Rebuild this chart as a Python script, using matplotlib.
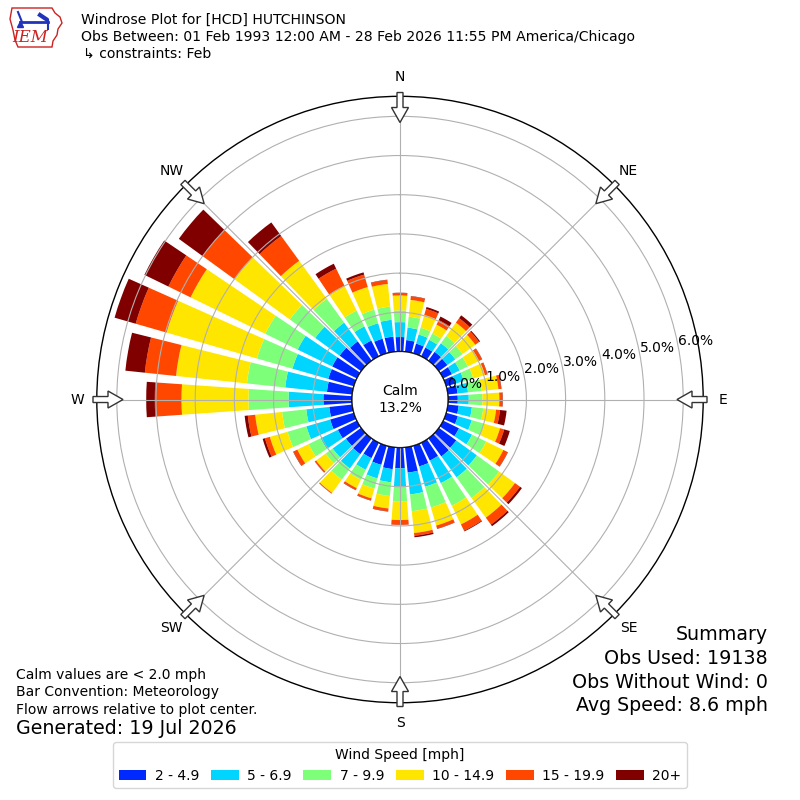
"""Wind rose for HCD Hutchinson, February observations"""
import numpy as np
import matplotlib
matplotlib.use("Agg")
import matplotlib.pyplot as plt
from matplotlib.patches import Polygon, Circle, Patch

## direction bins (deg, meteorological "from"), 10 degree steps
DIRECTIONS = np.arange(0, 360, 10)
SPEED_LABELS = ["2 - 4.9", "5 - 6.9", "7 - 9.9", "10 - 14.9", "15 - 19.9", "20+"]
COMPASS = ["N", "NE", "E", "SE", "S", "SW", "W", "NW"]

## frequency (% of all obs) per direction for each speed bin
SPD_2_5 = [0.37, 0.30, 0.26, 0.25, 0.28, 0.27, 0.25, 0.24, 0.25, 0.25, 0.28, 0.31,
           0.45, 0.55, 0.57, 0.51, 0.55, 0.65, 0.53, 0.56, 0.51, 0.44, 0.50, 0.48,
           0.54, 0.63, 0.59, 0.73, 0.65, 0.68, 0.70, 0.68, 0.61, 0.45, 0.39, 0.39]
SPD_5_7 = [0.38, 0.32, 0.24, 0.22, 0.27, 0.25, 0.22, 0.23, 0.27, 0.28, 0.34, 0.37,
           0.37, 0.65, 0.66, 0.64, 0.54, 0.56, 0.47, 0.34, 0.36, 0.33, 0.45, 0.42,
           0.49, 0.63, 0.59, 0.89, 1.07, 0.95, 0.98, 0.77, 0.59, 0.40, 0.41, 0.43]
SPD_7_10 = [0.30, 0.28, 0.18, 0.18, 0.23, 0.23, 0.23, 0.25, 0.35, 0.35, 0.29, 0.33,
            0.40, 0.70, 0.65, 0.64, 0.55, 0.43, 0.38, 0.35, 0.27, 0.28, 0.35, 0.22,
            0.34, 0.50, 0.62, 1.02, 0.98, 0.94, 0.92, 0.80, 0.75, 0.45, 0.36, 0.34]
SPD_10_15 = [0.38, 0.43, 0.34, 0.25, 0.42, 0.40, 0.32, 0.31, 0.43, 0.43, 0.33, 0.42,
             0.49, 0.50, 0.62, 0.53, 0.48, 0.56, 0.47, 0.32, 0.26, 0.24, 0.42, 0.30,
             0.32, 0.47, 0.69, 1.71, 1.82, 2.40, 2.12, 1.75, 1.20, 0.70, 0.60, 0.58]
SPD_15_20 = [0.06, 0.09, 0.16, 0.13, 0.14, 0.12, 0.08, 0.06, 0.07, 0.08, 0.10, 0.11,
             0.12, 0.16, 0.22, 0.18, 0.08, 0.07, 0.12, 0.07, 0.05, 0.05, 0.02, 0.04,
             0.11, 0.13, 0.19, 0.68, 0.80, 0.82, 0.63, 1.00, 0.78, 0.49, 0.33, 0.10]
SPD_20_UP = [0.01, 0.01, 0.05, 0.10, 0.09, 0.03, 0.01, 0.01, 0.01, 0.01, 0.17, 0.15,
             0.01, 0.06, 0.05, 0.02, 0.01, 0.04, 0.005, 0.01, 0.01, 0.01, 0.005, 0.005,
             0.01, 0.06, 0.08, 0.22, 0.50, 0.56, 0.68, 0.75, 0.43, 0.14, 0.06, 0.01]
CALM_PCT = 13.2
RTICKS = [0, 1, 2, 3, 4, 5, 6]

SPEED_BINS = [SPD_2_5, SPD_5_7, SPD_7_10, SPD_10_15, SPD_15_20, SPD_20_UP]
COLORS = plt.get_cmap("jet")(np.arange(1, 7) / 6.0)

## pixel geometry of the rose (800x800 figure)
R_PX = 303.2        # outer circle radius
ZERO_PX = 48.0      # radius of the calm circle / 0% ring
PX_PER_PCT = 39.2

fig = plt.figure(figsize=(8, 8), dpi=100)
ax = fig.add_axes([0.5 - R_PX / 800, 0.5006 - R_PX / 800, 2 * R_PX / 800, 2 * R_PX / 800],
                  projection="polar")
ax.set_theta_zero_location("N")
ax.set_theta_direction(-1)
ax.set_rorigin(-ZERO_PX / PX_PER_PCT)
ax.set_ylim(0, (R_PX - ZERO_PX) / PX_PER_PCT)

theta = np.deg2rad(DIRECTIONS)
bottom = np.zeros(len(DIRECTIONS))
for values, color in zip(SPEED_BINS, COLORS):
    values = np.array(values)
    ax.bar(theta, values, width=np.deg2rad(8), bottom=bottom, color=color,
           linewidth=0, zorder=1)
    bottom = bottom + values

ax.set_xticks(np.deg2rad(np.arange(0, 360, 45)))
ax.set_xticklabels([])
ax.set_yticks(RTICKS)
ax.set_yticklabels([])
ax.grid(True, color="#b0b0b0", linewidth=0.8)
ax.spines["polar"].set_linewidth(1.0)
for tick in RTICKS:
    ax.text(np.deg2rad(79.5), tick, "%.1f%%" % tick, ha="left", va="bottom",
            fontsize=10, zorder=5)

## calm circle in the middle
ax.add_artist(Circle((0.5, 0.5), ZERO_PX / (2 * R_PX), transform=ax.transAxes,
                     facecolor="white", edgecolor="black", linewidth=1.0, zorder=4))
ax.text(0.5, 0.5, "Calm\n%.1f%%" % CALM_PCT, transform=ax.transAxes, ha="center",
        va="center", fontsize=10, zorder=5)

## flow arrows and compass labels
def to_axes(r_px, ang, side=0.0):
    """radial/lateral pixel offsets -> axes fraction"""
    x = r_px * np.sin(ang) + side * np.cos(ang)
    y = r_px * np.cos(ang) - side * np.sin(ang)
    return (0.5 + x / (2 * R_PX), 0.5 + y / (2 * R_PX))

for i, name in enumerate(COMPASS):
    ang = np.deg2rad(i * 45)
    shape = [(277, 0), (292, 8.5), (292, 3), (307, 3), (307, -3), (292, -3), (292, -8.5)]
    pts = [to_axes(r, ang, s) for r, s in shape]
    ax.add_artist(Polygon(pts, closed=True, transform=ax.transAxes, facecolor="white",
                          edgecolor="#333333", linewidth=1.0, clip_on=False, zorder=6))
    lx, ly = to_axes(323, ang)
    ax.text(lx, ly, name, transform=ax.transAxes, ha="center", va="center",
            fontsize=10, clip_on=False)

## header
fig.text(81 / 800, 1 - 20 / 800, "Windrose Plot for [HCD] HUTCHINSON", fontsize=10.1, va="center")
fig.text(81 / 800, 1 - 37 / 800,
         "Obs Between: 01 Feb 1993 12:00 AM - 28 Feb 2026 11:55 PM America/Chicago",
         fontsize=10.1, va="center")
fig.text(83 / 800, 1 - 54 / 800, "\u21b3 constraints: Feb", fontsize=10.1, va="center")

## IEM logo, simplified
logo = fig.add_axes([0, 1 - 52 / 800, 68 / 800, 52 / 800])
logo.set_xlim(0, 68)
logo.set_ylim(52, 0)
logo.axis("off")
iowa = [(12, 8), (52, 8), (55, 13), (60, 17), (62, 23), (58, 29), (57, 35), (53, 41),
        (52, 47), (18, 47), (15, 40), (13, 30), (10, 19), (12, 8)]
logo.add_patch(Polygon(iowa, closed=True, fill=False, edgecolor="#cc2222", linewidth=1.0))
logo.plot([20, 48], [22, 22], color="#2233bb", linewidth=2)
logo.plot([18, 22], [12, 22], color="#2233bb", linewidth=1.5)
logo.plot([40, 46], [15, 19], color="#2233bb", linewidth=3)
logo.plot([48, 48], [20, 29], color="#2233bb", linewidth=1.5)
logo.plot([20], [24], marker="^", color="#2233bb", markersize=4)
logo.text(30, 38, "IEM", color="#cc2222", fontsize=12, style="italic",
          family="DejaVu Serif", ha="center", va="center")

## footer notes
fig.text(16 / 800, 1 - 675 / 800, "Calm values are < 2.0 mph", fontsize=10, va="center")
fig.text(16 / 800, 1 - 692 / 800, "Bar Convention: Meteorology", fontsize=10, va="center")
fig.text(16 / 800, 1 - 710 / 800, "Flow arrows relative to plot center.", fontsize=10, va="center")
fig.text(16 / 800, 1 - 729 / 800, "Generated: 19 Jul 2026", fontsize=13.7, va="center")

summary = ["Summary", "Obs Used: 19138", "Obs Without Wind: 0", "Avg Speed: 8.6 mph"]
for i, line in enumerate(summary):
    fig.text(768 / 800, 1 - (635 + 23.5 * i) / 800, line, fontsize=13.7, ha="right", va="center")

handles = [Patch(facecolor=c) for c in COLORS]
fig.legend(handles, SPEED_LABELS, loc="lower center", bbox_to_anchor=(0.5, 0.006), ncol=6,
           title="Wind Speed [mph]", fontsize=10, title_fontsize=10,
           columnspacing=0.85, handletextpad=0.6)

fig.savefig("out.png", dpi=100)
